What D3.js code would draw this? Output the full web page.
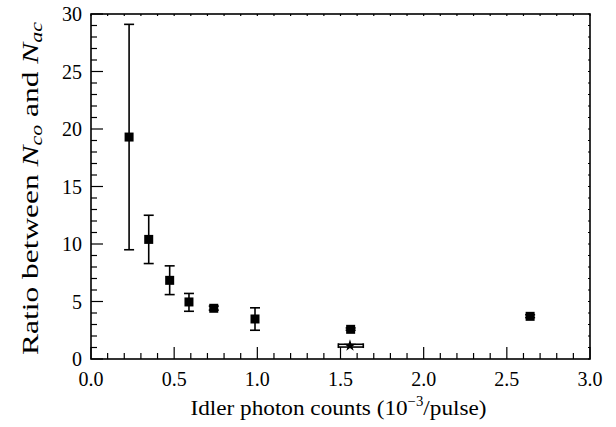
<!DOCTYPE html>
<html>
<head>
<meta charset="utf-8">
<script src="https://cdn.jsdelivr.net/npm/d3@7"></script>
<style>
	body { margin: 0; background: #fff; }
	text { font-family: "Liberation Serif", "DejaVu Serif", serif; fill: #000; }
</style>
</head>
<body>
<div id="chart"></div>
<script>
// measured points (square markers)
const counts = [0.229, 0.347, 0.473, 0.589, 0.738, 0.986, 1.561, 2.64];
const ratios = [19.3, 10.4, 6.84, 4.96, 4.41, 3.48, 2.58, 3.71];
const errLow = [9.5, 8.3, 5.6, 4.15, 4.25, 2.5, 2.5, 3.6];
const errHigh = [29.1, 12.5, 8.1, 5.7, 4.6, 4.45, 2.7, 3.85];

// star point with its error box
const starCount = 1.557;
const starRatio = 1.16;
const starXErr = [1.487, 1.637];
const starYErr = [1.04, 1.28];

const xTicks = [0.0, 0.5, 1.0, 1.5, 2.0, 2.5, 3.0];
const yTicks = [0, 5, 10, 15, 20, 25, 30];

const width = 616, height = 427;
const margin = { top: 14, right: 26, bottom: 68, left: 91 };
const fontSize = 20;

const svg = d3.select("#chart")
	.append("svg")
	.attr("width", width)
	.attr("height", height);

const x = d3.scaleLinear().domain([0, 3]).range([margin.left, width - margin.right]);
const y = d3.scaleLinear().domain([0, 30]).range([height - margin.bottom, margin.top]);

const x0 = x(0), x1 = x(3), y0 = y(0), y1 = y(30);

// minor/major ticks, pointing inward
const ticks = svg.append("g").attr("stroke", "#000");
d3.range(0, 3.0001, 0.1).forEach((v) => {
	const major = Math.abs(v * 2 - Math.round(v * 2)) < 1e-6;
	ticks.append("line")
		.attr("x1", x(v)).attr("x2", x(v))
		.attr("y1", y0).attr("y2", y0 - (major ? 12 : 6))
		.attr("stroke-width", 1.2);
	ticks.append("line")
		.attr("x1", x(v)).attr("x2", x(v))
		.attr("y1", y1).attr("y2", y1 + 2)
		.attr("stroke-width", 1.2);
});
d3.range(0, 31, 1).forEach((v) => {
	const major = v % 5 === 0;
	ticks.append("line")
		.attr("x1", x0).attr("x2", x0 + (major ? 12 : 6))
		.attr("y1", y(v)).attr("y2", y(v))
		.attr("stroke-width", 1.2);
	ticks.append("line")
		.attr("x1", x1).attr("x2", x1 - 2)
		.attr("y1", y(v)).attr("y2", y(v))
		.attr("stroke-width", 1.2);
});

// frame
svg.append("rect")
	.attr("x", x0).attr("y", y1)
	.attr("width", x1 - x0).attr("height", y0 - y1)
	.attr("fill", "none")
	.attr("stroke", "#000")
	.attr("stroke-width", 1.6);

// tick labels
svg.append("g")
	.selectAll("text")
	.data(xTicks)
	.enter()
	.append("text")
	.attr("x", (d) => x(d))
	.attr("y", y0 + 27)
	.attr("text-anchor", "middle")
	.style("font-size", fontSize + "px")
	.text((d) => d.toFixed(1));

svg.append("g")
	.selectAll("text")
	.data(yTicks)
	.enter()
	.append("text")
	.attr("x", x0 - 9)
	.attr("y", (d) => y(d) + 7)
	.attr("text-anchor", "end")
	.style("font-size", fontSize + "px")
	.text((d) => d);

// axis titles
const xLabel = svg.append("text")
	.attr("x", (x0 + x1) / 2 - 2)
	.attr("y", y0 + 56)
	.attr("text-anchor", "middle")
	.attr("textLength", 296)
	.attr("lengthAdjust", "spacingAndGlyphs")
	.style("font-size", "22px");
xLabel.append("tspan").text("Idler photon counts (10");
xLabel.append("tspan").attr("dy", -9).style("font-size", "14px").text("−3");
xLabel.append("tspan").attr("dy", 9).text("/pulse)");

const yLabel = svg.append("text")
	.attr("transform", `translate(38, ${(y0 + y1) / 2 + 2}) rotate(-90)`)
	.attr("text-anchor", "middle")
	.attr("textLength", 333)
	.attr("lengthAdjust", "spacingAndGlyphs")
	.style("font-size", "23px");
yLabel.append("tspan").text("Ratio between ");
yLabel.append("tspan").style("font-style", "italic").text("N");
yLabel.append("tspan").attr("dy", 4).style("font-style", "italic").style("font-size", "16px").text("co");
yLabel.append("tspan").attr("dy", -4).text(" and ");
yLabel.append("tspan").style("font-style", "italic").text("N");
yLabel.append("tspan").attr("dy", 4).style("font-style", "italic").style("font-size", "16px").text("ac");

// error bars
const pts = counts.map((c, i) => ({ c, r: ratios[i], lo: errLow[i], hi: errHigh[i] }));
const bars = svg.append("g").attr("stroke", "#000").attr("stroke-width", 1.6);
pts.forEach((d) => {
	bars.append("line")
		.attr("x1", x(d.c)).attr("x2", x(d.c))
		.attr("y1", y(d.lo)).attr("y2", y(d.hi));
	[d.lo, d.hi].forEach((v) => {
		bars.append("line")
			.attr("x1", x(d.c) - 5).attr("x2", x(d.c) + 5)
			.attr("y1", y(v)).attr("y2", y(v));
	});
});

// square markers
svg.append("g")
	.selectAll("rect")
	.data(pts)
	.enter()
	.append("rect")
	.attr("x", (d) => x(d.c) - 4.5)
	.attr("y", (d) => y(d.r) - 4.5)
	.attr("width", 9)
	.attr("height", 9)
	.attr("fill", "#000");

// star point
[starYErr[0], starYErr[1]].forEach((v) => {
	bars.append("line")
		.attr("x1", x(starXErr[0])).attr("x2", x(starXErr[1]))
		.attr("y1", y(v)).attr("y2", y(v));
});
starXErr.forEach((v) => {
	bars.append("line")
		.attr("x1", x(v)).attr("x2", x(v))
		.attr("y1", y(starYErr[0]) + 1).attr("y2", y(starYErr[1]) - 1);
});
svg.append("path")
	.attr("d", d3.symbol().type(d3.symbolStar).size(45)())
	.attr("transform", `translate(${x(starCount)}, ${y(starRatio)})`)
	.attr("fill", "#000");
</script>
</body>
</html>
